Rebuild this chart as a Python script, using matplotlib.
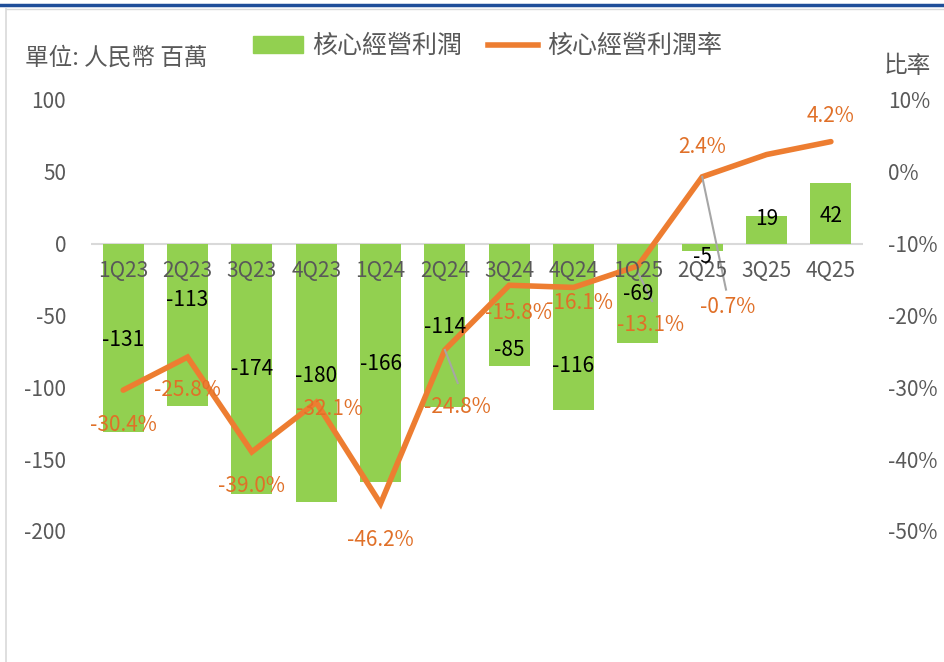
import matplotlib.pyplot as plt
from matplotlib.lines import Line2D
from matplotlib.patches import Patch

plt.rcParams['font.family'] = ['Noto Sans CJK TC', 'DejaVu Sans']
plt.rcParams['axes.unicode_minus'] = False

quarters = ['1Q23', '2Q23', '3Q23', '4Q23', '1Q24', '2Q24', '3Q24', '4Q24',
            '1Q25', '2Q25', '3Q25', '4Q25']
profit = [-131, -113, -174, -180, -166, -114, -85, -116, -69, -5, 19, 42]
margin = [-30.4, -25.8, -39.0, -32.1, -46.2, -24.8, -15.8, -16.1, -13.1, -0.7, 2.4, 4.2]

# label placement (x in category units, y in left-axis units)
profit_lbl_x = [0, 1, 2, 3, 4, 5, 6, 7, 8, 9, 10, 11]
profit_lbl_y = [-67, -39, -87, -92, -84, -58, -74, -85, -35, -9, 17, 19]
margin_lbl_x = [0, 1, 2, 3.2, 4, 5.2, 6.15, 7.1, 8.2, 9.4, 9.0, 11]
margin_lbl_y = [-126, -102, -169, -115, -206, -114, -48, -41, -57, -44, 67, 89]

green = '#92D050'
orange = '#ED7D31'
label_orange = '#E07028'
grey = '#595959'

fig = plt.figure(figsize=(9.45, 6.62), dpi=100)
ax = fig.add_axes([0.0963, 0.198, 0.817, 0.651])
ax2 = ax.twinx()

x = range(len(quarters))
ax.bar(x, profit, width=0.64, color=green, zorder=2)
ax.axhline(0, color='#D9D9D9', lw=1.5, zorder=1)
ax.set_xlim(-0.5, 11.5)
ax.set_ylim(-200, 100)
ax.set_yticks([-200, -150, -100, -50, 0, 50, 100])
ax.set_xticks([])
ax.tick_params(axis='y', length=0, labelsize=15, labelcolor=grey, pad=18)

ax2.plot(x, margin, color=orange, lw=4, solid_capstyle='round', solid_joinstyle='miter', zorder=3)
ax2.set_ylim(-50, 10)
ax2.set_yticks([-50, -40, -30, -20, -10, 0, 10])
ax2.set_yticklabels([f'{v}%' for v in [-50, -40, -30, -20, -10, 0, 10]])
ax2.tick_params(axis='y', length=0, labelsize=15, labelcolor=grey, pad=18)

for a in (ax, ax2):
    for s in a.spines.values():
        s.set_visible(False)

ax2.set_zorder(ax.get_zorder() + 1)
ax2.patch.set_visible(False)

# category labels along zero line
for i, q in enumerate(quarters):
    ax2.text(i, -13.8, q, ha='center', va='center', fontsize=15, color=grey, zorder=5)

# leader lines
to_m = lambda v: v / 5 - 10
ax2.plot([5, 5.2], [margin[5], to_m(-97)], color='#A6A6A6', lw=1.5, zorder=4)
ax2.plot([8, 8.22], [to_m(-20), to_m(-40)], color='#A6A6A6', lw=1.5, zorder=4)
ax2.plot([9, 9.37], [margin[9], to_m(-32)], color='#A6A6A6', lw=1.5, zorder=4)

for i, v in enumerate(profit):
    ax2.text(profit_lbl_x[i], to_m(profit_lbl_y[i]), str(v), ha='center', va='center',
             fontsize=15, color='black', zorder=6)
for i, v in enumerate(margin):
    ax2.text(margin_lbl_x[i], to_m(margin_lbl_y[i]), f'{v:.1f}%', ha='center', va='center',
             fontsize=15, color=label_orange, zorder=6)

fig.text(0.026, 0.912, '單位: 人民幣 百萬', fontsize=17, color=grey, ha='left', va='center')
fig.text(0.935, 0.9, '比率', fontsize=17, color=grey, ha='left', va='center')

handles = [Patch(color=green), Line2D([0], [0], color=orange, lw=4)]
fig.legend(handles, ['核心經營利潤', '核心經營利潤率'], loc='center', bbox_to_anchor=(0.516, 0.93),
           ncol=2, frameon=False, fontsize=18, labelcolor=grey, handlelength=2.0,
           handleheight=0.7, columnspacing=1.0, handletextpad=0.4)

# frame decorations
fig.add_artist(Line2D([0, 1], [0.993, 0.993], color='#1F4E99', lw=2.5, transform=fig.transFigure))
fig.add_artist(Line2D([0.006, 1], [0.987, 0.987], color='#D9D9D9', lw=1, transform=fig.transFigure))
fig.add_artist(Line2D([0.006, 0.006], [0, 0.987], color='#D9D9D9', lw=1.2, transform=fig.transFigure))

fig.savefig('out.png', dpi=100)
